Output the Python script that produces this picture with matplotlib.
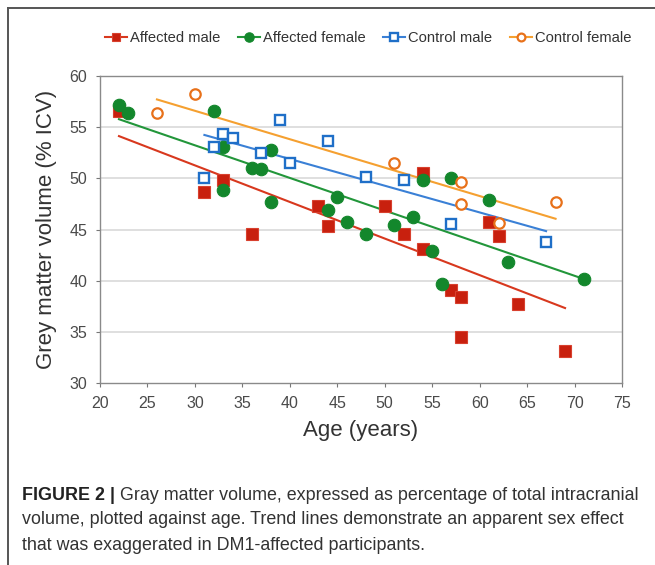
import numpy as np
import matplotlib
matplotlib.use("Agg")
import matplotlib.pyplot as plt
from matplotlib.lines import Line2D

plt.rcParams['font.family'] = ['Liberation Sans', 'DejaVu Sans']

# ---- data (age, grey matter % ICV) ----
am_age = [22, 31, 33, 36, 43, 44, 50, 52, 54, 54, 57, 58, 58, 61, 62, 64, 69]
am_gm = [56.6, 48.7, 49.8, 44.6, 47.3, 45.3, 47.3, 44.6, 50.5, 43.1, 39.1, 38.4, 34.5, 45.7, 44.4, 37.7, 33.1]

af_age = [22, 23, 32, 33, 33, 36, 37, 38, 38, 44, 45, 46, 48, 51, 53, 54, 55, 56, 57, 61, 63, 71]
af_gm = [57.2, 56.4, 56.6, 53.1, 48.9, 51.0, 50.9, 52.8, 47.7, 46.9, 48.2, 45.7, 44.6, 45.4, 46.2, 49.8, 42.9, 39.7, 50.0, 47.9, 41.8, 40.2]

cm_age = [31, 32, 33, 34, 37, 39, 40, 44, 48, 52, 57, 67]
cm_gm = [50.0, 53.1, 54.3, 53.9, 52.5, 55.7, 51.5, 53.6, 50.1, 49.8, 45.5, 43.8]

cf_age = [26, 30, 51, 58, 58, 62, 68]
cf_gm = [56.4, 58.2, 51.5, 49.6, 47.5, 45.6, 47.7]

labels = ["Affected male", "Affected female", "Control male", "Control female"]
x_ticks = [20, 25, 30, 35, 40, 45, 50, 55, 60, 65, 70, 75]
y_ticks = [30, 35, 40, 45, 50, 55, 60]

W, H = 655, 565
fig = plt.figure(figsize=(W / 100, H / 100), dpi=100)
ax = fig.add_axes([100 / W, 1 - 383 / H, 522 / W, 307 / H])

groups = [
    (am_age, am_gm, dict(marker='s', ms=8.5, mfc='#c8200e', mec='#d8402e', mew=0.8), '#d8381e'),
    (af_age, af_gm, dict(marker='o', ms=9, mfc='#13872c', mec='#13872c', mew=0.8), '#22963a'),
    (cm_age, cm_gm, dict(marker='s', ms=7.5, mfc='white', mec='#1f6fc8', mew=1.7), '#3a80d6'),
    (cf_age, cf_gm, dict(marker='o', ms=7.5, mfc='white', mec='#e8711a', mew=1.6), '#f5a030'),
]

handles = []
for (xa, ya, mk, lc), lab in zip(groups, labels):
    xa = np.array(xa, float)
    ya = np.array(ya, float)
    ax.plot(xa, ya, ls='none', zorder=3, **mk)
    k, b = np.polyfit(xa, ya, 1)
    xs = np.array([xa.min(), xa.max()])
    ax.plot(xs, k * xs + b, color=lc, lw=1.5, zorder=2)
    hmk = dict(mk)
    hmk['ms'] = mk['ms'] * 0.75
    handles.append(Line2D([0], [0], color=lc, lw=1.5, **hmk))

ax.set_xlim(20, 75)
ax.set_ylim(30, 60)
ax.set_xticks(x_ticks)
ax.set_yticks(y_ticks)
for y in y_ticks[1:-1]:
    ax.axhline(y, color='#d9d9d9', lw=1.2, zorder=0)
for s in ax.spines.values():
    s.set_color('#8a8a8a')
    s.set_linewidth(1.0)
ax.tick_params(direction='out', length=3, width=0.8, color='#777777',
               labelsize=11.5, labelcolor='#4a4a4a', pad=6)
ax.set_xlabel("Age (years)", fontsize=16, color='#333333', labelpad=7)
ax.set_ylabel("Grey matter volume (% ICV)", fontsize=16, color='#333333', labelpad=9)

fig.legend(handles, labels, loc='center', bbox_to_anchor=(368 / W, 1 - 38 / H),
           ncol=4, frameon=False, fontsize=10.6, handlelength=1.5, handletextpad=0.2,
           columnspacing=1.2, labelcolor='#333333')

# outer frame (left and top edges)
fig.add_artist(Line2D([8 / W, 8 / W], [0, 1 - 8 / H], color='#555555', lw=1.4,
                      transform=fig.transFigure))
fig.add_artist(Line2D([8 / W, 1], [1 - 8 / H, 1 - 8 / H], color='#555555', lw=1.4,
                      transform=fig.transFigure))

# caption
cap_fs = 12.9
t1 = fig.text(22 / W, 1 - 495 / H, "FIGURE 2 |", fontsize=cap_fs, fontweight='bold',
              color='#222222', va='center', ha='left')
fig.canvas.draw()
plt.annotate(" Gray matter volume, expressed as percentage of total intracranial",
             xy=(1, 0.5), xycoords=t1, va='center', ha='left',
             fontsize=cap_fs, color='#333333', annotation_clip=False)
fig.text(22 / W, 1 - 520 / H,
         "volume, plotted against age. Trend lines demonstrate an apparent sex effect",
         fontsize=cap_fs, color='#333333', va='center', ha='left')
fig.text(22 / W, 1 - 546 / H,
         "that was exaggerated in DM1-affected participants.",
         fontsize=cap_fs, color='#333333', va='center', ha='left')

fig.savefig("out.png", dpi=100)
